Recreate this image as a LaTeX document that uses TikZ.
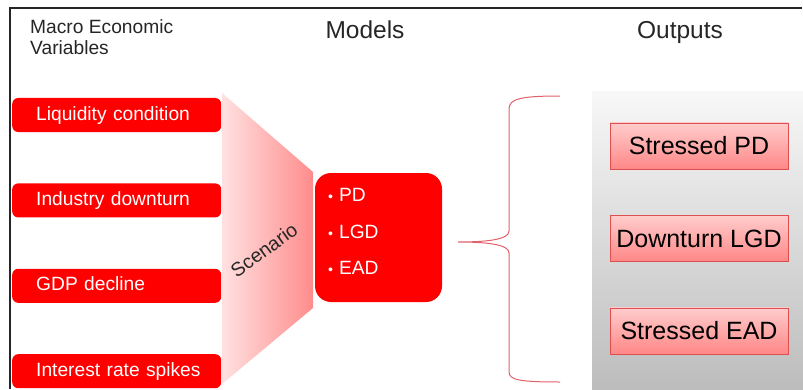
\documentclass[tikz,border=0pt]{standalone}
\usepackage{fontspec}
\setmainfont{Liberation Sans}
\usetikzlibrary{positioning, shapes, arrows.meta}
\definecolor{bracered}{RGB}{226,96,106}
\definecolor{outline}{RGB}{222,80,80}
\tikzstyle{base} = [rectangle, text centered, inner sep=0pt]
\tikzstyle{macrobox} = [base, fill=red, text=white, rounded corners=6pt,
 minimum width=209pt, minimum height=34pt, text width=185pt, align=left,
 inner xsep=12pt, text height=14pt, text depth=4pt, font=\fontsize{19.2}{23}\selectfont,
 execute at begin node=\hspace*{12pt}]
\tikzstyle{outputbox} = [base, top color=red!20, bottom color=red!47, draw=outline,
 minimum width=178pt, minimum height=46pt, font=\fontsize{25}{30}\selectfont]
\tikzstyle{headingtext} = [font=\fontsize{24.5}{29}\selectfont, text=black!85]
\tikzstyle{bracestyle} = [bracered, line width=1pt]
\newcommand\modelbullet{{\fontsize{14}{14}\selectfont\textbullet}\hspace{6pt}}

\begin{document}
\begin{tikzpicture}[x=1pt, y=1pt]

\useasboundingbox (0,0) rectangle (803,389);

% Background panel and funnel
\shade[top color=black!3, bottom color=black!26] (592,0) rectangle (803,297);
\shade[left color=red!12, right color=red!45] (222,296) -- (313,217) -- (313,81) -- (222,5) -- cycle;

% Headings
\node (MACRO) [anchor=north west, align=left, inner sep=0pt,
    font=\fontsize{19.2}{21}\selectfont, text=black!85] at (30,370) {Macro Economic\\Variables};
\node (MODELS_TITLE) [headingtext, anchor=base] at (365,350) {Models};
\node (OUTPUTS_TITLE) [headingtext, anchor=base] at (680,350) {Outputs};

% Macro variables
\node (LIQUIDITY) [macrobox, anchor=west] at (12,274) {Liquidity condition};
\node (INDUSTRY) [macrobox, below=51pt of LIQUIDITY] {Industry downturn};
\node (GDP) [macrobox, below=51pt of INDUSTRY] {GDP decline};
\node (INTEREST) [macrobox, below=51pt of GDP] {Interest rate spikes};

\node (SCENARIO) [rotate=36, font=\fontsize{19.5}{23}\selectfont, text=black!85] at (264,139) {Scenario};

% Models
\node (MODELS) [fill=red, rounded corners=16pt, minimum width=127pt, minimum height=129pt] at (378.5,151.5) {};
\node (MODELS_LIST) [anchor=west, align=left, text=white, inner sep=0pt,
    font=\fontsize{19.2}{36.5}\selectfont] at (328,157.5) {\modelbullet PD\\\modelbullet LGD\\\modelbullet EAD};

% Brace
\draw[bracestyle] (560,293) .. controls (520,293) and (509,290) .. (509,280) -- (509,158)
    .. controls (509,150) and (490,147) .. (458,147)
    .. controls (490,147) and (509,144) .. (509,136) -- (509,17)
    .. controls (509,9) and (520,7) .. (560,7);

% Outputs
\node (STRESSED_PD) [outputbox] at (699,243) {Stressed PD};
\node (DOWNTURN_LGD) [outputbox, below=46pt of STRESSED_PD] {Downturn LGD};
\node (STRESSED_EAD) [outputbox, below=46pt of DOWNTURN_LGD] {Stressed EAD};

% Frame
\draw[line width=1.5pt, black!85] (10,0) -- (10,381) -- (802,381);

\end{tikzpicture}
\end{document}
